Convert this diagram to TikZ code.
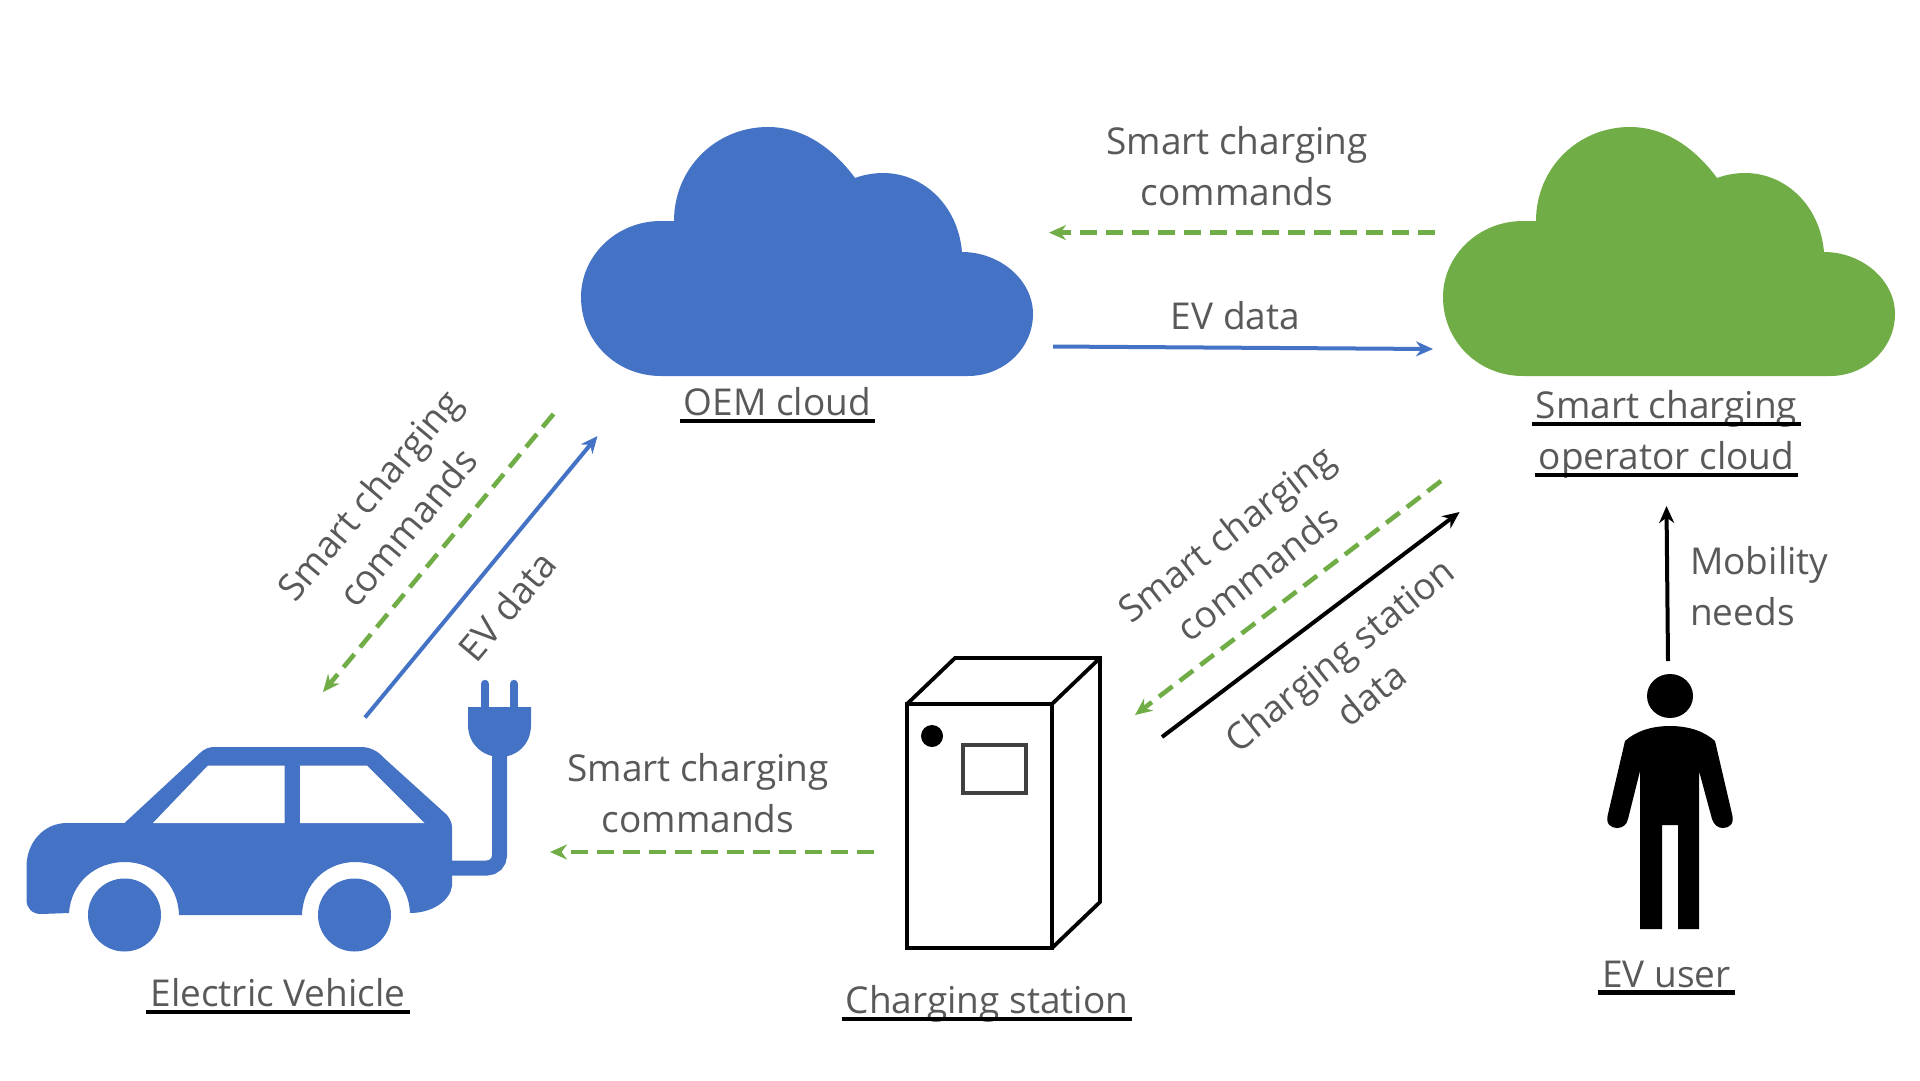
\documentclass[tikz,border=0pt]{standalone}
\usepackage{fontspec}
\setmainfont{Open Sans}
\usetikzlibrary{arrows.meta}
\definecolor{evblue}{HTML}{4472C4}
\definecolor{evgreen}{HTML}{70AD47}
\definecolor{evtext}{HTML}{595959}
\newcommand{\cloudoutline}{(1523,376) -- (1830,376)
 .. controls (1866,376) and (1895,348) .. (1895,314)
 .. controls (1895,280) and (1862,252) .. (1824,252)
 .. controls (1820,205) and (1785,173) .. (1745,173)
 .. controls (1735,173) and (1725,175) .. (1717,178)
 .. controls (1695,148) and (1665,127) .. (1630,127)
 .. controls (1578,127) and (1536,168) .. (1536,221)
 -- (1523,221)
 .. controls (1478,221) and (1443,256) .. (1443,297)
 .. controls (1443,341) and (1478,376) .. (1523,376) -- cycle}
\tikzset{
 x=1pt,y=-1pt,
 lbl/.style={inner sep=0pt,text=evtext,font=\fontsize{37}{50.5}\selectfont,align=center},
 ulline/.style={draw=black,line width=4.2pt},
 tipb/.style={-{Stealth[length=17pt,width=15pt]}},
 bluearrow/.style={tipb,draw=evblue,line width=4pt},
 blackarrow/.style={tipb,draw=black,line width=4pt},
 greenarrow/.style={tipb,draw=evgreen,line width=4.6pt,dash pattern=on 17pt off 9pt},
 boxline/.style={draw=black,line width=3.8pt,line join=miter},
}
\begin{document}
\begin{tikzpicture}
\useasboundingbox (0,0) rectangle (1920,1080);
% clouds
\fill[evgreen] \cloudoutline;
\begin{scope}[xshift=-862pt]
\fill[evblue] \cloudoutline;
\end{scope}
% car
\fill[evblue] (69,913) -- (41,914) .. controls (32,914) and (26.5,908) .. (26.5,900)
 -- (26.5,867) .. controls (26.5,842) and (44,823) .. (67,823)
 -- (124.5,823) -- (200,753) .. controls (204,749) and (209,747) .. (214,747)
 -- (361,747) .. controls (370,747) and (378,751) .. (384,758)
 -- (447,815) .. controls (450,819) and (452,823) .. (452,827)
 -- (452,886) .. controls (450,901) and (432,913) .. (410,913)
 .. controls (409,883) and (385,862) .. (355,862)
 .. controls (327,862) and (303,883) .. (302,915)
 -- (179,915)
 .. controls (178,883) and (154,862) .. (124.5,862)
 .. controls (95,862) and (71,883) .. (69,913) -- cycle;
\fill[evblue] (124.5,915) circle[radius=36.5];
\fill[evblue] (354.5,915) circle[radius=36.5];
\fill[white] (153,823) -- (208,765.5) -- (284.5,765.5) -- (284.5,823) -- cycle;
\fill[white] (300,823) -- (300,765.5) -- (367,765.5) -- (424.5,823) -- cycle;
% cable and plug
\draw[evblue,line width=15pt] (450,868) -- (487,868) arc[start angle=90,end angle=0,radius=12.5] -- (499.5,745);
\fill[evblue] (468,707) -- (531,707) -- (531,725) .. controls (531,745) and (516,757) .. (500,757)
 .. controls (484,757) and (468,745) .. (468,725) -- cycle;
\draw[evblue,line width=8.5pt,line cap=round] (485,684) -- (485,710);
\draw[evblue,line width=8.5pt,line cap=round] (514,684) -- (514,710);
% charging station
\draw[boxline] (907,704) rectangle (1052,948);
\draw[boxline] (907,704) -- (955,658) -- (1100,658) -- (1100,902) -- (1052,948);
\draw[boxline] (1052,704) -- (1100,658);
\draw[draw=black!75,line width=4pt] (963,745) rectangle (1026,793);
\fill[black] (932,736) circle[radius=11];
% person
\fill[black] (1670,696) ellipse[x radius=23,y radius=22];
\fill[black] (1670,726) .. controls (1650,726) and (1635,732) .. (1625,741)
 -- (1608,814) .. controls (1605,824) and (1611,828) .. (1617,828)
 .. controls (1622,828) and (1627,825) .. (1628,819)
 -- (1640,771) -- (1640,929) -- (1662,929) -- (1662,825) -- (1678,825) -- (1678,929) -- (1699,929)
 -- (1699,771) -- (1712,819) .. controls (1714,825) and (1718,828) .. (1723,828)
 .. controls (1729,828) and (1735,824) .. (1732,814)
 -- (1715,741) .. controls (1705,732) and (1690,726) .. (1670,726) -- cycle;
% labels
\node[lbl] (l1) at (1237,166) {Smart charging\\commands};
\node[lbl] (l2) at (1235.5,316) {EV data};
\node[lbl,rotate=50] (l3) at (388,511) {Smart charging\\commands};
\node[lbl,rotate=50] (l4) at (507,606) {EV data};
\node[lbl,rotate=38] (l5) at (1241.5,553.5) {Smart charging\\commands};
\node[lbl,rotate=39] (l6) at (1355,674) {Charging station\\data};
\node[lbl] (l7) at (698,793) {Smart charging\\commands};
\node[lbl,align=left,anchor=west] (l8) at (1690,586) {Mobility\\needs};
\node[lbl] (oem) at (777.5,401.6) {OEM cloud};
\node[lbl] (sc1) at (1666.5,409) {Smart charging};
\node[lbl] (sc2) at (1666.5,459.5) {operator cloud};
\node[lbl] (ev) at (278,993) {Electric Vehicle};
\node[lbl] (cs) at (987,1003.5) {Charging station};
\node[lbl] (usr) at (1666.5,974) {EV user};
% underlines
\foreach \n in {oem,sc2,ev,cs,usr,sc1}
  \draw[ulline] ([shift={(-4,5.5)}]\n.base west) -- ([shift={(4,5.5)}]\n.base east);
% arrow ends
\coordinate (a1) at (1435,232.6); \coordinate (a2) at (1049,232.6);
\coordinate (b1) at (1053,346.5); \coordinate (b2) at (1433,349);
\coordinate (c1) at (553.5,414); \coordinate (c2) at (323,692);
\coordinate (d1) at (365,717.5); \coordinate (d2) at (597.5,436);
\coordinate (e1) at (1441,481); \coordinate (e2) at (1135,715);
\coordinate (f1) at (1162,737); \coordinate (f2) at (1459.6,512);
\coordinate (g1) at (1668,661); \coordinate (g2) at (1666.5,506);
\coordinate (h1) at (874,852); \coordinate (h2) at (550,852);
\draw[greenarrow] (a1) -- (a2);
\draw[bluearrow] (b1) -- (b2);
\draw[greenarrow] (c1) -- (c2);
\draw[bluearrow] (d1) -- (d2);
\draw[greenarrow] (e1) -- (e2);
\draw[blackarrow] (f1) -- (f2);
\draw[blackarrow] (g1) -- (g2);
\draw[greenarrow] (h1) -- (h2);
\end{tikzpicture}
\end{document}
